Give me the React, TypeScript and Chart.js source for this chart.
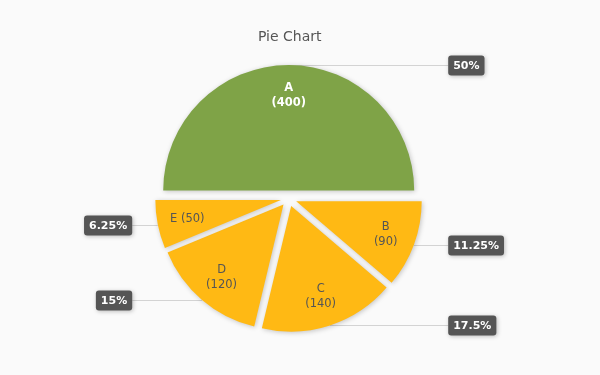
import { useEffect, useRef } from 'react';
import { Chart, registerables } from 'chart.js';

Chart.register(...registerables);

const categories = ['A', 'B', 'C', 'D', 'E'];
const values = [400, 90, 140, 120, 50];
const sliceColors = ['#7fa347', '#ffb914', '#ffb914', '#ffb914', '#ffb914'];
const innerTextColors = ['#ffffff', '#555555', '#555555', '#555555', '#555555'];
const innerTextBold = [true, false, false, false, false];
const titleText = 'Pie Chart';

const FONT = '"DejaVu Sans", Verdana, sans-serif';
const EXPLODE = 8;
const RADIUS = 125.5;

function roundRect(ctx: CanvasRenderingContext2D, x: number, y: number, w: number, h: number, r: number) {
  ctx.beginPath();
  ctx.moveTo(x + r, y);
  ctx.lineTo(x + w - r, y);
  ctx.quadraticCurveTo(x + w, y, x + w, y + r);
  ctx.lineTo(x + w, y + h - r);
  ctx.quadraticCurveTo(x + w, y + h, x + w - r, y + h);
  ctx.lineTo(x + r, y + h);
  ctx.quadraticCurveTo(x, y + h, x, y + h - r);
  ctx.lineTo(x, y + r);
  ctx.quadraticCurveTo(x, y, x + r, y);
  ctx.closePath();
}

function sliceGeom(arc: any) {
  const mid = (arc.startAngle + arc.endAngle) / 2;
  const cx = arc.x + Math.cos(mid) * EXPLODE;
  const cy = arc.y + Math.sin(mid) * EXPLODE;
  return { mid, cx, cy, r: arc.outerRadius };
}

export default function App() {
  const ref = useRef<HTMLCanvasElement>(null);

  useEffect(() => {
    if (!ref.current) return;
    const total = values.reduce((a, b) => a + b, 0);
    const pct = (v: number) => `${Number(((v / total) * 100).toFixed(2))}%`;

    const bgPlugin = {
      id: 'bg',
      beforeDraw(chart: any) {
        const ctx = chart.ctx;
        ctx.save();
        ctx.fillStyle = '#fafafa';
        ctx.fillRect(0, 0, chart.width, chart.height);
        ctx.restore();
      },
    };

    const calloutPos = (arc: any) => {
      const g = sliceGeom(arc);
      const px = g.cx + Math.cos(g.mid) * g.r;
      const py = g.cy + Math.sin(g.mid) * g.r;
      const right = Math.cos(g.mid) >= -1e-6;
      const edge = right ? arc.x + g.r + 34 : arc.x - g.r - 31;
      return { px, py, right, edge };
    };

    const linesPlugin = {
      id: 'leaderLines',
      beforeDatasetsDraw(chart: any) {
        const ctx = chart.ctx;
        const meta = chart.getDatasetMeta(0);
        ctx.save();
        ctx.strokeStyle = '#d3d3d3';
        ctx.lineWidth = 1;
        meta.data.forEach((arc: any) => {
          const c = calloutPos(arc);
          const y = Math.round(c.py) + 0.5;
          ctx.beginPath();
          ctx.moveTo(c.px, y);
          ctx.lineTo(c.edge, y);
          ctx.stroke();
        });
        ctx.restore();
      },
    };

    const explodePlugin = {
      id: 'explode',
      beforeDatasetDraw(chart: any, args: any) {
        const ctx = chart.ctx;
        args.meta.data.forEach((arc: any) => {
          const mid = (arc.startAngle + arc.endAngle) / 2;
          ctx.save();
          ctx.shadowColor = 'rgba(0,0,0,0.22)';
          ctx.shadowBlur = 5;
          ctx.shadowOffsetX = 1;
          ctx.shadowOffsetY = 1;
          ctx.translate(Math.cos(mid) * EXPLODE, Math.sin(mid) * EXPLODE);
          arc.draw(ctx);
          ctx.restore();
        });
        return false;
      },
    };

    const labelsPlugin = {
      id: 'labels',
      afterDatasetsDraw(chart: any) {
        const ctx = chart.ctx;
        const meta = chart.getDatasetMeta(0);
        ctx.save();
        // title
        const first = meta.data[0];
        ctx.fillStyle = '#555555';
        ctx.font = `14px ${FONT}`;
        ctx.textAlign = 'center';
        ctx.textBaseline = 'alphabetic';
        ctx.fillText(titleText, first.x + 1, 41);

        meta.data.forEach((arc: any, i: number) => {
          const g = sliceGeom(arc);
          // inner label
          const lx = g.cx + Math.cos(g.mid) * g.r * 0.76;
          const ly = g.cy + Math.sin(g.mid) * g.r * 0.76;
          ctx.font = `${innerTextBold[i] ? 'bold ' : ''}11.5px ${FONT}`;
          ctx.fillStyle = innerTextColors[i];
          ctx.textAlign = 'center';
          ctx.textBaseline = 'middle';
          const span = arc.endAngle - arc.startAngle;
          if (span < 0.5) {
            ctx.fillText(`${categories[i]} (${values[i]})`, lx, ly);
          } else {
            ctx.fillText(categories[i], lx, ly - 7.5);
            ctx.fillText(`(${values[i]})`, lx, ly + 7.5);
          }

          // callout box
          const c = calloutPos(arc);
          const text = pct(values[i]);
          ctx.font = `bold 11px ${FONT}`;
          const tw = ctx.measureText(text).width;
          const bw = tw + 10;
          const bh = 20;
          const bx = c.right ? c.edge : c.edge - bw;
          const by = Math.round(c.py) + 0.5 - bh / 2;
          ctx.save();
          ctx.shadowColor = 'rgba(0,0,0,0.25)';
          ctx.shadowBlur = 4;
          ctx.shadowOffsetX = 1;
          ctx.shadowOffsetY = 1;
          ctx.fillStyle = '#555555';
          roundRect(ctx, bx, by, bw, bh, 3);
          ctx.fill();
          ctx.restore();
          ctx.fillStyle = '#ffffff';
          ctx.textAlign = 'center';
          ctx.textBaseline = 'middle';
          ctx.fillText(text, bx + bw / 2, by + bh / 2 + 0.5);
        });
        ctx.restore();
      },
    };

    const chart = new Chart(ref.current, {
      type: 'pie',
      data: {
        labels: categories,
        datasets: [
          {
            data: values,
            backgroundColor: sliceColors,
            borderWidth: 0,
            clip: false,
          } as any,
        ],
      },
      options: {
        animation: false,
        responsive: true,
        maintainAspectRatio: false,
        rotation: -90,
        radius: RADIUS,
        layout: { padding: { left: 100, right: 122.6, top: 40, bottom: 18 } },
        plugins: {
          legend: { display: false },
          title: { display: false },
          tooltip: { enabled: false },
        },
        events: [],
      } as any,
      plugins: [bgPlugin, linesPlugin, explodePlugin, labelsPlugin],
    });
    return () => chart.destroy();
  }, []);

  return (
    <div style={{ position: 'fixed', left: 0, top: 0, width: 600, height: 375, background: '#fafafa' }}>
      <canvas ref={ref} />
    </div>
  );
}
